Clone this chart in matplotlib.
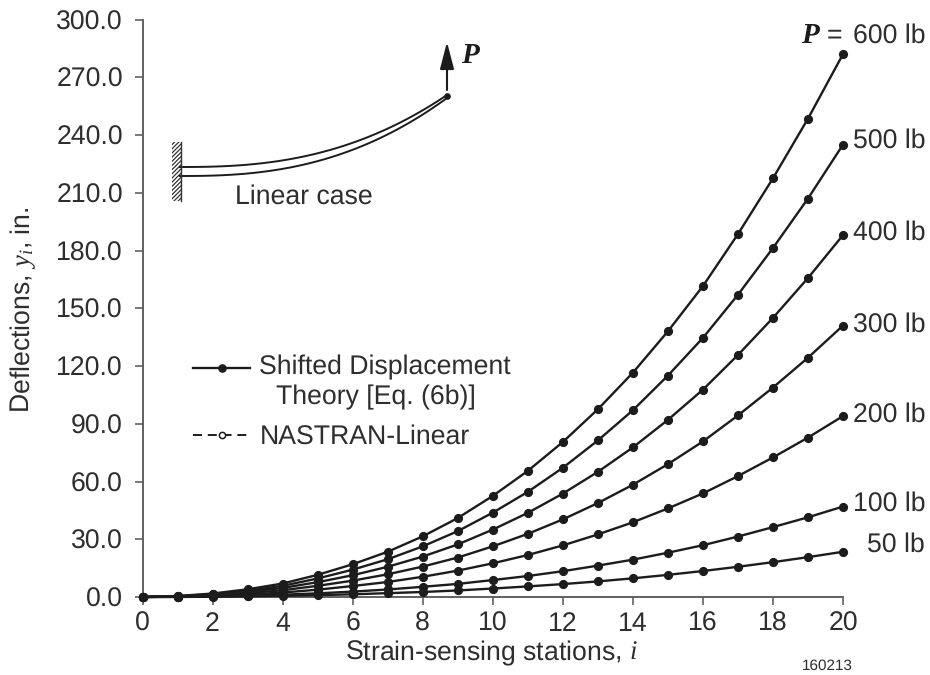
"""
Deflection curves of a loaded cantilever vs strain-sensing station.
"""

import matplotlib.pyplot as plt
import numpy as np

plt.rcParams["font.family"] = ["Liberation Sans", "DejaVu Sans"]
plt.rcParams["mathtext.fontset"] = "custom"
plt.rcParams["mathtext.it"] = "Liberation Serif:italic"
plt.rcParams["mathtext.rm"] = "Liberation Sans"
plt.rcParams["hatch.linewidth"] = 0.9
plt.rcParams["text.hinting"] = "no_hinting"

INK = "#1c1c1c"
TEXT = "#2e2e2e"
AXIS = "#555555"

# ── Data ──────────────────────────────────────────────────────────────────── #
stations = list(range(21))

y_600 = [0, 0.5, 1.8, 4, 7, 11.5, 17, 23.5, 31.5, 41, 52.5, 65.5, 80.5, 97.5, 116.5, 138, 161.5, 188.5, 217.5, 248.5, 282]
y_500 = [0, 0.4, 1.5, 3.3, 5.8, 9.6, 14.2, 19.6, 26.3, 34.2, 43.8, 54.6, 67.1, 81.3, 97, 115, 134.6, 157, 181.3, 207, 235]
y_400 = [0, 0.3, 1.2, 2.7, 4.7, 7.7, 11.3, 15.7, 21, 27.3, 35, 43.7, 53.7, 65, 77.7, 92, 107.7, 125.7, 145, 165.7, 188]
y_300 = [0, 0.25, 0.9, 2, 3.5, 5.8, 8.5, 11.8, 15.8, 20.5, 26.3, 32.8, 40.3, 48.8, 58.3, 69, 80.8, 94.3, 108.8, 124.3, 141]
y_200 = [0, 0.17, 0.6, 1.3, 2.3, 3.8, 5.7, 7.8, 10.5, 13.7, 17.5, 21.8, 26.8, 32.5, 38.8, 46, 53.8, 62.8, 72.5, 82.8, 94]
y_100 = [0, 0.08, 0.3, 0.67, 1.2, 1.9, 2.8, 3.9, 5.3, 6.8, 8.8, 10.9, 13.4, 16.3, 19.4, 23, 26.9, 31.4, 36.3, 41.4, 47]
y_50 = [0, 0.04, 0.15, 0.33, 0.6, 0.96, 1.4, 2, 2.6, 3.4, 4.4, 5.5, 6.7, 8.1, 9.7, 11.5, 13.5, 15.7, 18.1, 20.7, 23.5]

series = [y_600, y_500, y_400, y_300, y_200, y_100, y_50]

x_ticks = list(range(0, 21, 2))
y_ticks = [0, 30, 60, 90, 120, 150, 180, 210, 240, 270, 300]

W, H = 930, 675
FS = 19.2

fig = plt.figure(figsize=(W / 100, H / 100), dpi=100)
ax = fig.add_axes([142.5 / W, 1 - 597 / H, (843 - 142.5) / W, (597 - 19.5) / H])

for values in series:
    ax.plot(stations, values, color=INK, lw=1.7, marker="o", ms=5.6, clip_on=False, zorder=3)

ax.set_xlim(0, 20)
ax.set_ylim(0, 300)
ax.set_xticks(x_ticks)
ax.set_yticks(y_ticks)
ax.set_yticklabels([f"{v:.1f}" for v in y_ticks])
ax.tick_params(axis="both", direction="out", length=5.5, width=1.1, color=AXIS,
               labelsize=FS, labelcolor=TEXT)
ax.tick_params(axis="x", pad=5)
ax.tick_params(axis="y", pad=8.6)
ax.spines["top"].set_visible(False)
ax.spines["right"].set_visible(False)
ax.spines["left"].set_color(AXIS)
ax.spines["bottom"].set_color(AXIS)
ax.spines["left"].set_linewidth(1.3)
ax.spines["bottom"].set_linewidth(1.3)

# ── Overlay in pixel coordinates for sketch, legend and labels ────────────── #
ov = fig.add_axes([0, 0, 1, 1], zorder=5)
ov.set_xlim(0, W)
ov.set_ylim(H, 0)
ov.axis("off")
ov.patch.set_alpha(0)


def label(x, y, s, **kw):
    kw.setdefault("fontsize", FS)
    kw.setdefault("color", TEXT)
    kw.setdefault("va", "center")
    ov.text(x, y, s, **kw)


# beam sketch
t = np.linspace(0, 1, 60)
beam_x = 180 + 267 * t
ov.plot(beam_x, 167 - 72 * t**2.5, color=INK, lw=1.4)
ov.plot(beam_x, 176 - 78 * t**2.5, color=INK, lw=1.4)
ov.plot([447], [96], "o", color=INK, ms=3.8)
ov.fill_between([172, 181], 142, 201, facecolor="white", edgecolor="#333333", hatch="////////", lw=0)
ov.plot([181, 181], [142, 201], color="#333333", lw=1.0)
ov.annotate("", xy=(447, 42), xytext=(447, 90),
            arrowprops=dict(arrowstyle="-|>,head_length=1.65,head_width=0.43", color=INK, lw=1.5,
                            shrinkA=0, shrinkB=0))
label(461, 56, "P", family="Liberation Serif", style="italic", fontweight="bold", fontsize=21, color=INK)
label(235, 197, "Linear case")

# legend
ov.plot([193, 250], [368, 368], color=INK, lw=1.7)
ov.plot([222], [368], "o", color=INK, ms=5.2)
ov.plot([193, 250], [435, 435], color=INK, lw=1.4, ls=(0, (4.6, 3)))
ov.plot([222], [435], "o", mfc="white", mec=INK, mew=1.1, ms=4.5)
label(259, 367, "Shifted Displacement")
label(276, 397, "Theory [Eq. (6b)]")
label(260, 437, "NASTRAN-Linear")

# load labels
label(801, 36, "P", family="Liberation Serif", style="italic", fontweight="bold", fontsize=21, color=INK)
label(827, 36, "=")
label(853, 36, "600 lb")
label(853, 141, "500 lb")
label(853, 233, "400 lb")
label(853, 325, "300 lb")
label(853, 415, "200 lb")
label(853, 504, "100 lb")
label(867, 545, "50 lb")

# axis titles
label(491, 653, r"Strain-sensing stations, $i$", ha="center")
label(23, 310, r"Deflections, $y_i$, in.", ha="center", rotation=90)
label(802, 666, "160213", fontsize=11)

fig.savefig("out.png", dpi=100)
